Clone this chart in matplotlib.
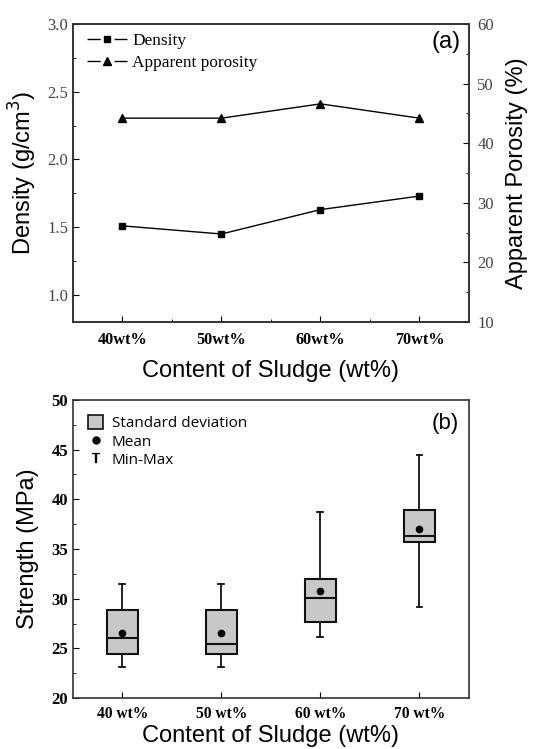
import matplotlib
matplotlib.use("Agg")
import matplotlib.pyplot as plt
from matplotlib.ticker import MultipleLocator
from matplotlib.lines import Line2D
from matplotlib.patches import Patch

# ---- data ----
cats_a = ["40wt%", "50wt%", "60wt%", "70wt%"]
density = [1.51, 1.45, 1.63, 1.73]
porosity = [44.2, 44.2, 46.6, 44.2]

cats_b = ["40 wt%", "50 wt%", "60 wt%", "70 wt%"]
s_min = [23.15, 23.15, 26.15, 29.15]
s_q1 = [24.45, 24.45, 27.7, 35.75]
s_med = [26.05, 25.45, 30.1, 36.3]
s_q3 = [28.85, 28.85, 31.95, 38.95]
s_max = [31.5, 31.5, 38.75, 44.5]
s_mean = [26.5, 26.5, 30.8, 37.05]

serif = "Liberation Serif"
sans = "Liberation Sans"
spine_c = "#333333"
LBL = 17

fig = plt.figure(figsize=(5.36, 7.49), dpi=100)

# ---------- (a) ----------
ax = fig.add_axes([0.136, 0.570, 0.739, 0.398])
xa = list(range(len(cats_a)))
ax.plot(xa, density, color="black", lw=1.0, marker="s", ms=4.5)
ax.set_xlim(-0.5, 3.5)
ax.set_ylim(0.8, 3.0)
ax.yaxis.set_minor_locator(MultipleLocator(0.25))
ax.set_xticks(xa)
ax.set_xticks([0.5, 1.5, 2.5], minor=True)
ax.set_xticklabels(cats_a, fontfamily=serif, fontweight="bold", fontsize=11.7)
ax.set_yticks([1.0, 1.5, 2.0, 2.5, 3.0])
ax.set_yticklabels(["1.0", "1.5", "2.0", "2.5", "3.0"], fontfamily=serif, fontsize=12, color="#444444")
ax.tick_params(which="both", direction="in", top=False, right=False)
ax.tick_params(which="major", length=4)
ax.tick_params(which="minor", length=2.5)
ax.tick_params(axis="x", pad=7)
ax.set_xlabel("Content of Sludge (wt%)", fontfamily=sans, fontsize=LBL, labelpad=9)
ax.set_ylabel("Density (g/cm$^3$)", fontfamily=sans, fontsize=LBL, labelpad=6)

ax2 = ax.twinx()
ax2.plot(xa, porosity, color="black", lw=1.0, marker="^", ms=5.5)
ax2.set_ylim(10, 60)
ax2.set_yticks([10, 20, 30, 40, 50, 60])
ax2.yaxis.set_minor_locator(MultipleLocator(5))
ax2.set_yticklabels(["10", "20", "30", "40", "50", "60"], fontfamily=serif, fontsize=12, color="#444444")
ax2.tick_params(which="both", direction="in")
ax2.tick_params(which="major", length=4, pad=6)
ax2.tick_params(which="minor", length=2.5)
ax2.set_ylabel("Apparent Porosity (%)", fontfamily=sans, fontsize=LBL, labelpad=9)

for a in (ax, ax2):
    for s in a.spines.values():
        s.set_color(spine_c)
        s.set_linewidth(1.2)

handles_a = [Line2D([], [], color="black", lw=1.0, marker="s", ms=4.5, dashes=[9.5, 10]),
             Line2D([], [], color="black", lw=1.0, marker="^", ms=5.5, dashes=[9.5, 10])]
ax.legend(handles_a, ["Density", "Apparent porosity"], loc="upper left",
          bbox_to_anchor=(0.013, 1.0),
          frameon=False, prop={"family": serif, "size": 12.4}, handlelength=2.34,
          borderaxespad=0.1, borderpad=0.4, labelspacing=0.35, handletextpad=0.3)
ax.text(0.978, 0.975, "(a)", transform=ax.transAxes, ha="right", va="top",
        fontfamily=sans, fontsize=17)

# ---------- (b) ----------
bx = fig.add_axes([0.136, 0.068, 0.739, 0.398])
stats = []
for i, c in enumerate(cats_b):
    stats.append(dict(label=c, whislo=s_min[i], q1=s_q1[i], med=s_med[i],
                      q3=s_q3[i], whishi=s_max[i], mean=s_mean[i]))
xb = list(range(len(cats_b)))
bx.bxp(stats, positions=xb, widths=0.32, showfliers=False, showmeans=True,
       patch_artist=True, capwidths=0.06,
       boxprops=dict(facecolor="#c8c8c8", edgecolor="#111111", linewidth=1.5),
       medianprops=dict(color="#111111", linewidth=1.5),
       whiskerprops=dict(color="#111111", linewidth=1.3),
       capprops=dict(color="#111111", linewidth=1.3),
       meanprops=dict(marker="o", markerfacecolor="black", markeredgecolor="black", markersize=4.5))
bx.set_xlim(-0.5, 3.5)
bx.set_ylim(20, 50)
bx.set_yticks([20, 25, 30, 35, 40, 45, 50])
bx.yaxis.set_minor_locator(MultipleLocator(2.5))
bx.set_yticklabels(["20", "25", "30", "35", "40", "45", "50"], fontfamily=serif,
                   fontweight="bold", fontsize=12)
bx.set_xticks(xb)
bx.set_xticklabels(cats_b, fontfamily=serif, fontweight="bold", fontsize=11.2)
bx.tick_params(which="both", direction="in", top=False, right=False)
bx.tick_params(which="major", length=4)
bx.tick_params(which="minor", length=2.5)
bx.tick_params(axis="x", pad=6)
bx.set_xlabel("Content of Sludge (wt%)", fontfamily=sans, fontsize=LBL, labelpad=2)
bx.set_ylabel("Strength (MPa)", fontfamily=sans, fontsize=LBL, labelpad=9)
for s in bx.spines.values():
    s.set_color(spine_c)
    s.set_linewidth(1.2)

handles_b = [Patch(facecolor="#c8c8c8", edgecolor="#111111", linewidth=1.2),
             Line2D([], [], color="black", lw=0, marker="o", ms=5),
             Line2D([], [], color="black", lw=0, marker="$\\mathsf{T}$", ms=7, markeredgewidth=0.2)]
bx.legend(handles_b, ["Standard deviation", "Mean", "Min-Max"], loc="upper left",
          frameon=False, prop={"family": "Open Sans", "size": 11}, handlelength=1.0,
          handleheight=1.0, borderaxespad=0.6, labelspacing=0.15, handletextpad=0.55)
bx.text(0.975, 0.955, "(b)", transform=bx.transAxes, ha="right", va="top",
        fontfamily=sans, fontsize=16)

fig.savefig("out.png", dpi=100)
